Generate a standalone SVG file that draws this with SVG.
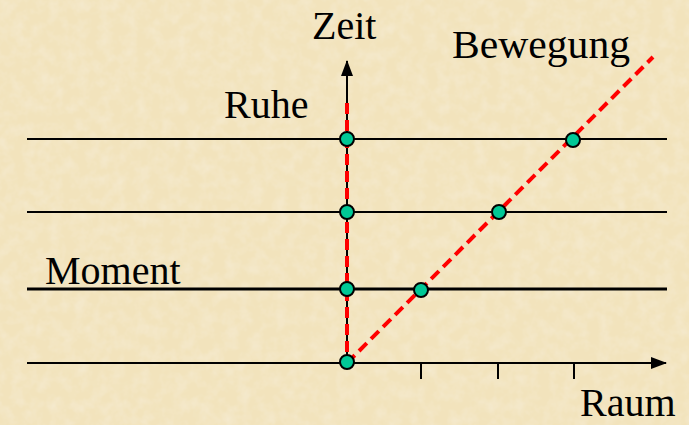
<svg xmlns="http://www.w3.org/2000/svg" width="689" height="425" viewBox="0 0 689 425">
<style>
.t{font-family:"Liberation Serif","Times New Roman","DejaVu Serif","Noto Serif",serif;font-size:40px;fill:#000}
.ln{stroke:#000;stroke-width:2;fill:none}
.rd{stroke:#FF0000;stroke-width:4;stroke-dasharray:11 6;fill:none}
.pt{fill:#00C896;stroke:#000;stroke-width:2}
</style>
<defs>
<filter id="tex" x="0" y="0" width="100%" height="100%">
<feTurbulence type="fractalNoise" baseFrequency="0.08" numOctaves="3" seed="4" result="n"/>
<feColorMatrix in="n" type="matrix" values="0 0 0 0 0.92  0 0 0 0 0.84  0 0 0 0 0.66  0 0 0 -1.2 0.75" result="c"/>
<feComposite in="c" in2="SourceGraphic" operator="over"/>
</filter>
<marker id="ah" markerWidth="16" markerHeight="12" refX="15" refY="6" orient="auto" markerUnits="userSpaceOnUse">
<path d="M0,0 L16,6 L0,12 Z" fill="#000"/>
</marker>
</defs>
<rect id="background" width="689" height="425" fill="#F2E3BC" filter="url(#tex)"/>
<g id="connectors">
<line class="ln" x1="27" y1="139" x2="667" y2="139"/>
<line class="ln" x1="27" y1="212" x2="667" y2="212"/>
<line x1="27" y1="289" x2="667" y2="289" stroke="#000" stroke-width="3"/>
<line class="ln" x1="27" y1="363" x2="666" y2="363" marker-end="url(#ah)"/>
<line class="ln" x1="347" y1="365" x2="347" y2="61" marker-end="url(#ah)"/>
<line class="ln" x1="421" y1="363" x2="421" y2="379"/>
<line class="ln" x1="498" y1="363" x2="498" y2="379"/>
<line class="ln" x1="574" y1="363" x2="574" y2="379"/>
<line class="rd" x1="347" y1="103" x2="347" y2="363"/>
<line class="rd" x1="347" y1="363" x2="653" y2="57"/>
</g>
<g id="points">
<circle class="pt" cx="347" cy="139" r="7"/>
<circle class="pt" cx="347" cy="212" r="7"/>
<circle class="pt" cx="347" cy="289" r="7"/>
<circle class="pt" cx="347" cy="362" r="7"/>
<circle class="pt" cx="421" cy="290" r="7"/>
<circle class="pt" cx="499" cy="212" r="7"/>
<circle class="pt" cx="573" cy="140" r="7"/>
</g>
<g id="labels">
<text id="zeit" class="t" x="312" y="39">Zeit</text>
<text id="bewegung" class="t" x="452" y="58" textLength="178" lengthAdjust="spacingAndGlyphs">Bewegung</text>
<text id="ruhe" class="t" x="224" y="118">Ruhe</text>
<text id="moment" class="t" x="45" y="284">Moment</text>
<text id="raum" class="t" x="580" y="416">Raum</text>
</g>
</svg>
